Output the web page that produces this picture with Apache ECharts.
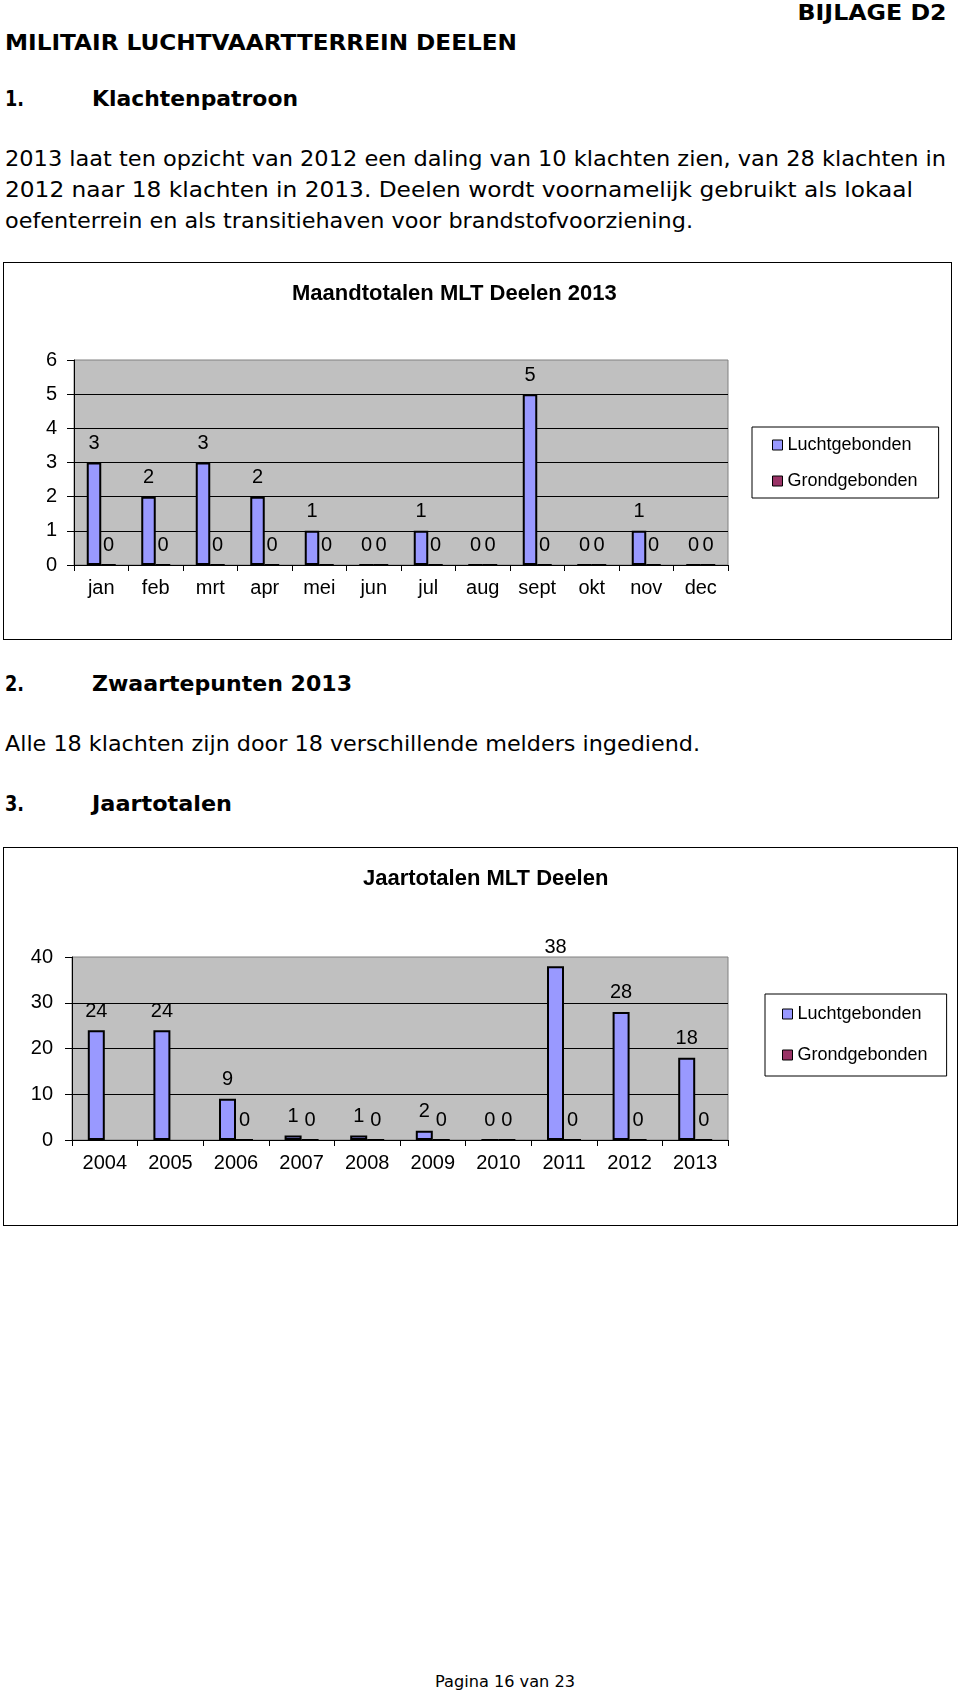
<!DOCTYPE html>
<html><head><meta charset="utf-8">
<script src="https://cdn.jsdelivr.net/npm/echarts@6/dist/echarts.min.js"></script>
<style>
html,body{margin:0;padding:0;background:#fff}
body{width:960px;height:1696px;position:relative;overflow:hidden;font-family:'DejaVu Sans',Verdana,sans-serif;color:#000}
.t{position:absolute;white-space:nowrap;font-size:22px;line-height:26px;height:26px}
.b{font-weight:bold}
.frame{position:absolute;border:1px solid #000;box-sizing:border-box;pointer-events:none}
.chart{position:absolute}
</style></head><body>
<div id="c1" class="chart" style="left:3px;top:262px;width:949px;height:378px"></div>
<div class="frame" style="left:3px;top:262px;width:949px;height:378px"></div>
<div id="c2" class="chart" style="left:3px;top:847px;width:955px;height:379px"></div>
<div class="frame" style="left:3px;top:847px;width:955px;height:379px"></div>
<script>
// ---- data ----
const months = ['jan','feb','mrt','apr','mei','jun','jul','aug','sept','okt','nov','dec'];
const luchtMonths = [3,2,3,2,1,0,1,0,5,0,1,0];
const grondMonths = [0,0,0,0,0,0,0,0,0,0,0,0];
const years = ['2004','2005','2006','2007','2008','2009','2010','2011','2012','2013'];
const luchtYears = [24,24,9,1,1,2,0,38,28,18];
const grondYears = ['-','-',0,0,0,0,0,0,0,0];
const monthTicks = [0,1,2,3,4,5,6];
const yearTicks = [0,10,20,30,40];
const seriesNames = ['Luchtgebonden','Grondgebonden'];

// ---- page text ----
const pageText = [
  {s:'BIJLAGE D2', x:946, yc:13, w:149, b:true, right:true},
  {s:'MILITAIR LUCHTVAARTTERREIN DEELEN', x:5, yc:43, w:512, b:true},
  {s:'1.', x:5, yc:99, w:19, b:true},
  {s:'Klachtenpatroon', x:92, yc:99, w:206, b:true},
  {s:'2013 laat ten opzicht van 2012 een daling van 10 klachten zien, van 28 klachten in', x:5, yc:159, w:941},
  {s:'2012 naar 18 klachten in 2013. Deelen wordt voornamelijk gebruikt als lokaal', x:5, yc:190, w:908},
  {s:'oefenterrein en als transitiehaven voor brandstofvoorziening.', x:5, yc:221, w:688},
  {s:'2.', x:5, yc:684, w:19, b:true},
  {s:'Zwaartepunten 2013', x:92, yc:684, w:260, b:true},
  {s:'Alle 18 klachten zijn door 18 verschillende melders ingediend.', x:5, yc:744, w:695},
  {s:'3.', x:5, yc:804, w:19, b:true},
  {s:'Jaartotalen', x:92, yc:804, w:140, b:true},
  {s:'Pagina 16 van 23', x:435, yc:1682, w:140, size:16}
];
pageText.forEach(t=>{
  const d=document.createElement('div');
  d.className='t'+(t.b?' b':'');
  d.textContent=t.s;
  if(t.size){d.style.fontSize=t.size+'px';}
  d.style.top=(t.yc-13)+'px';
  document.body.appendChild(d);
  const w=d.getBoundingClientRect().width;
  const sx=t.w/w;
  if(t.right){d.style.left=(t.x-w)+'px';d.style.transformOrigin='right center';}
  else{d.style.left=t.x+'px';d.style.transformOrigin='left center';}
  d.style.transform='scaleX('+sx.toFixed(4)+')';
});

const AF = "'Liberation Sans', Arial, sans-serif";
function makeOption(cfg){
  return {
    animation:false,
    title:{text:cfg.title,left:cfg.titleLeft,top:cfg.titleTop,padding:0,
      textStyle:{fontFamily:AF,fontSize:22,fontWeight:'bold',color:'#000'}},
    legend:{orient:'vertical',left:cfg.legLeft,top:cfg.legTop,padding:cfg.legPad,itemGap:cfg.legGap,
      itemWidth:10,itemHeight:10,icon:'rect',borderColor:'#000',borderWidth:1,backgroundColor:'#fff',
      textStyle:{fontFamily:AF,fontSize:18,color:'#000'},
      itemStyle:{borderColor:'#000',borderWidth:1},
      data:seriesNames},
    grid:{left:cfg.grid[0],top:cfg.grid[1],width:cfg.grid[2],height:cfg.grid[3],show:true,
      backgroundColor:'#C0C0C0',borderColor:'#808080',borderWidth:1,containLabel:false},
    xAxis:{type:'category',data:cfg.cats,
      axisLine:{show:true,lineStyle:{color:'#000',width:1}},
      axisTick:{show:true,length:6,lineStyle:{color:'#000'}},
      axisLabel:{margin:13,fontSize:20,color:'#000',fontFamily:AF,interval:0}},
    yAxis:{type:'value',min:cfg.ticks[0],max:cfg.ticks[cfg.ticks.length-1],interval:cfg.ticks[1]-cfg.ticks[0],
      axisLine:{show:true,lineStyle:{color:'#000',width:1}},
      axisTick:{show:true,length:7,lineStyle:{color:'#000'}},
      axisLabel:{margin:cfg.yMargin,fontSize:20,color:'#000',fontFamily:AF},
      splitLine:{show:true,showMaxLine:false,lineStyle:{color:'#000',width:1}}},
    series:[
      {name:seriesNames[0],type:'bar',data:cfg.a,barWidth:cfg.bw,barGap:'0%',
        itemStyle:{color:'#9999FF',borderColor:'#000',borderWidth:2},
        label:{show:true,position:'top',distance:9,fontSize:20,color:'#000',fontFamily:AF}},
      {name:seriesNames[1],type:'bar',data:cfg.b,barWidth:cfg.bw,barGap:'0%',
        itemStyle:{color:'#993366',borderColor:'#000',borderWidth:2},
        label:{show:true,position:'top',distance:9,fontSize:20,color:'#000',fontFamily:AF}}
    ]
  };
}
const c1=echarts.init(document.getElementById('c1'));
c1.setOption(makeOption({title:'Maandtotalen MLT Deelen 2013',titleLeft:289,titleTop:21,
  legLeft:749,legTop:165,legPad:[9,21,8,20],legGap:18,
  grid:[71,98,654,205],cats:months,ticks:monthTicks,yMargin:17,a:luchtMonths,b:grondMonths,bw:14.5}));
const c2=echarts.init(document.getElementById('c2'));
c2.setOption(makeOption({title:'Jaartotalen MLT Deelen',titleLeft:360,titleTop:21,
  legLeft:762,legTop:147,legPad:[11,19,12,17],legGap:23,
  grid:[69,110,656,183],cats:years,ticks:yearTicks,yMargin:19,a:luchtYears,b:grondYears,bw:17}));
</script>
</body></html>
